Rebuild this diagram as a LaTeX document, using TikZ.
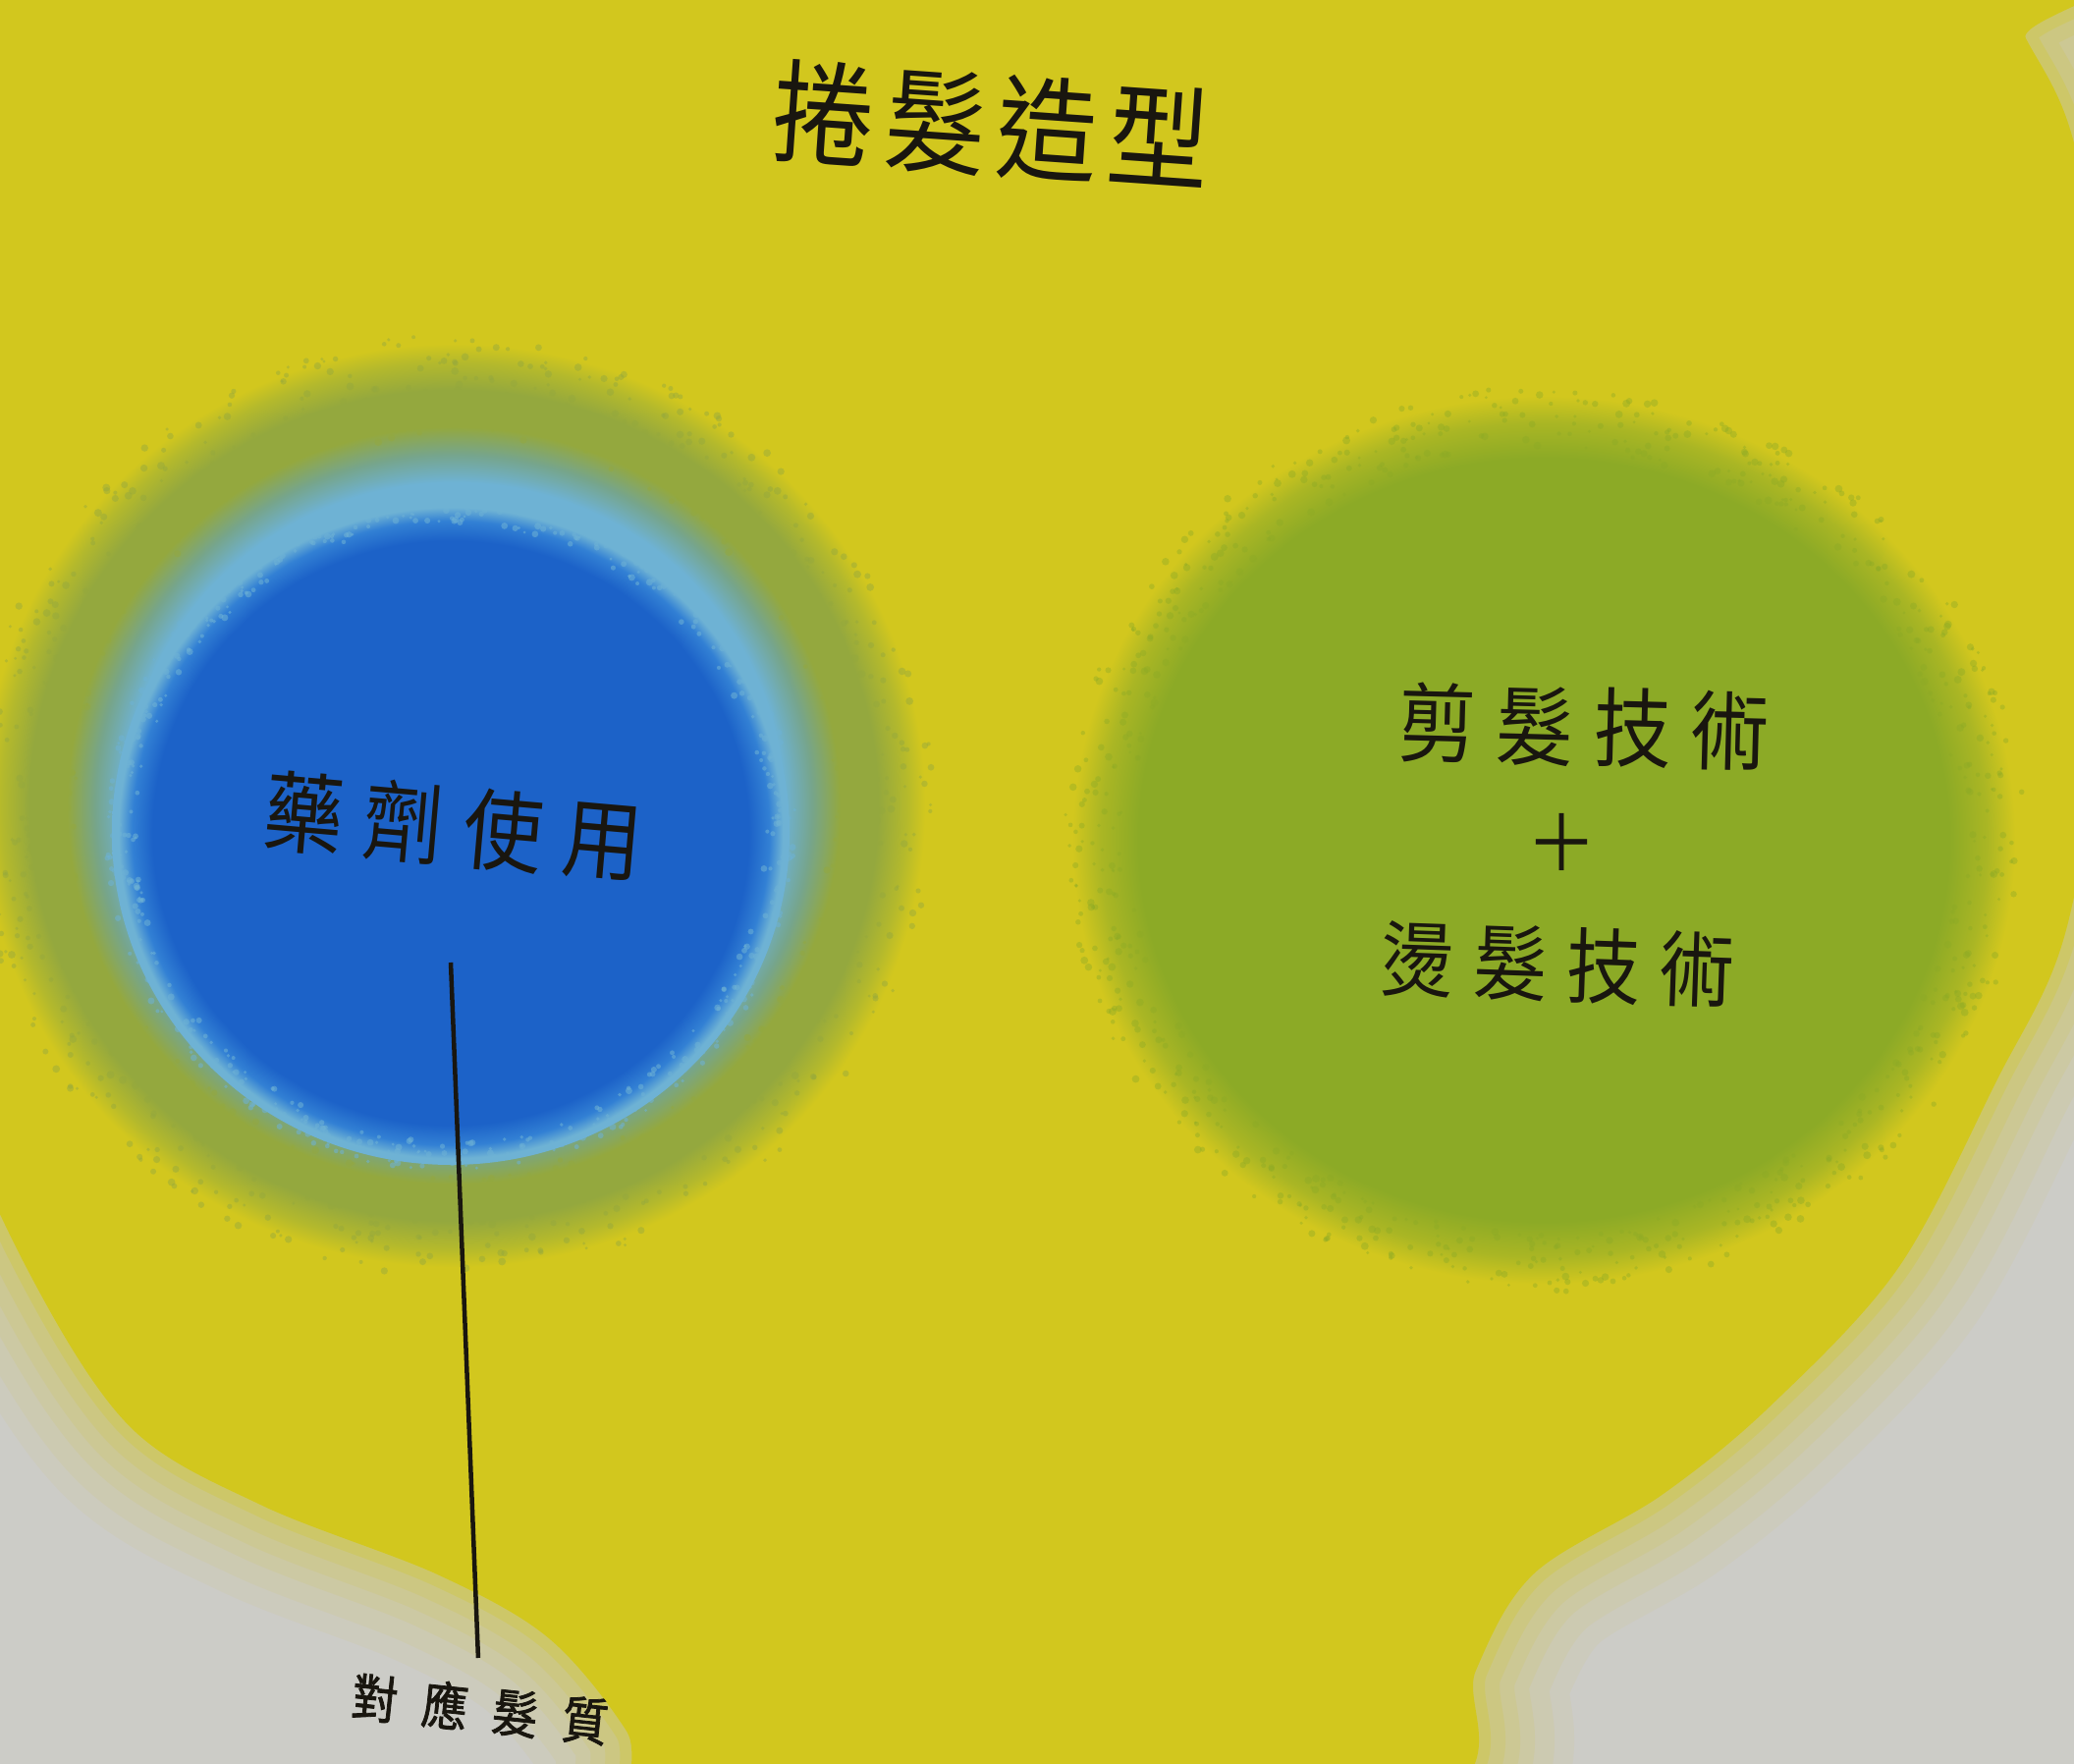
\documentclass[tikz,border=0pt]{standalone}
\usepackage{fontspec}
\newfontfamily\cjk[FakeStretch=0.9]{Noto Sans CJK TC}
\newfontfamily\cjkb[FakeStretch=0.9,FakeBold=1.5]{Noto Sans CJK TC}
\definecolor{paper}{RGB}{204,204,199}
\definecolor{yel}{RGB}{210,199,30}
\definecolor{blu}{RGB}{28,98,200}
\definecolor{blu2}{RGB}{50,128,212}
\definecolor{hcyan}{RGB}{110,178,212}
\definecolor{hteal}{RGB}{118,165,140}
\definecolor{holive}{RGB}{148,168,62}
\definecolor{hmix}{RGB}{180,185,44}
\definecolor{grn}{RGB}{140,170,38}
\definecolor{grn2}{RGB}{170,182,36}
\definecolor{ink}{RGB}{25,22,15}
\pgfdeclareradialshading{haloshade}{\pgfpoint{0bp}{0bp}}{color(0bp)=(hcyan); color(17.5bp)=(hcyan); color(19bp)=(hteal); color(20.5bp)=(holive); color(22.5bp)=(holive); color(24bp)=(hmix); color(25bp)=(yel); color(50bp)=(yel)}
\pgfdeclareradialshading{coreshade}{\pgfpoint{0bp}{0bp}}{color(0bp)=(blu); color(22bp)=(blu); color(23.5bp)=(blu2); color(24.5bp)=(hcyan); color(25bp)=(hcyan); color(50bp)=(hcyan)}
\pgfdeclareradialshading{greenshade}{\pgfpoint{0bp}{0bp}}{color(0bp)=(grn); color(21.5bp)=(grn); color(23.5bp)=(grn2); color(25bp)=(yel); color(50bp)=(yel)}
\tikzset{
  txt/.style={text=ink, font=\cjk, inner sep=0pt},
  lbltxt/.style={text=ink, font=\cjkb, inner sep=0pt},
  leader/.style={draw=ink, line width=4.5pt}
}
\begin{document}
\begin{tikzpicture}[x=1pt,y=1pt]
\useasboundingbox (0,0) rectangle (2112,1796);
\begin{scope}
\clip (0,0) rectangle (2112,1796);
\fill[paper] (0,0) rectangle (2112,1796);
% big yellow field with soft edge
\foreach \w/\o/\f in {200/0.06/0, 160/0.07/0, 120/0.09/0, 90/0.11/0, 60/0.15/0, 30/0.25/0, 6/1/1}{
  \filldraw[draw=yel, fill=yel, line width=\w pt, draw opacity=\o, fill opacity=\f]
    plot[smooth cycle, tension=0.55] coordinates {
      (-80,1876) (2000,1856) (2060,1756) (2110,1646) (2150,1396) (2140,1096)
      (2100,846) (2030,696) (1930,506) (1800,366) (1690,276) (1560,196)
      (1500,96) (1460,-34) (1000,-124) (680,-54) (640,36) (560,131)
      (446,196) (268,266) (134,346) (30,506) (-60,716) (-100,926)};
}
% left blob: halo + blue core
\shade[shading=haloshade] (462,976) ellipse [x radius=480, y radius=470];
\pgfmathsetseed{7}
\foreach \i in {1,...,900}{
  \pgfmathsetmacro{\ang}{360*rnd}
  \pgfmathsetmacro{\rr}{0.80+0.22*rnd}
  \fill[holive, opacity=0.45] ({462+480*\rr*cos(\ang)},{976+470*\rr*sin(\ang)}) circle ({1.5+2.5*rnd});
}
\shade[shading=coreshade] (459,948) ellipse [x radius=345, y radius=338];
\foreach \i in {1,...,600}{
  \pgfmathsetmacro{\ang}{360*rnd}
  \pgfmathsetmacro{\rr}{0.93+0.09*rnd}
  \fill[hcyan, opacity=0.55] ({459+345*\rr*cos(\ang)},{948+338*\rr*sin(\ang)}) circle ({1.5+2*rnd});
}
% right green blob
\shade[shading=greenshade] (1572,941) ellipse [x radius=480, y radius=452];
\foreach \i in {1,...,800}{
  \pgfmathsetmacro{\ang}{360*rnd}
  \pgfmathsetmacro{\rr}{0.88+0.14*rnd}
  \fill[grn, opacity=0.4] ({1572+480*\rr*cos(\ang)},{941+452*\rr*sin(\ang)}) circle ({1.5+2.5*rnd});
}
\end{scope}
% texts
\node[txt, rotate=-4] (title) at (1010,1668)
  {\fontsize{115}{115}\selectfont 捲\hspace{0.09em}髮\hspace{0.09em}造\hspace{0.09em}型};
\node[txt, rotate=-5] (drug) at (462,955)
  {\fontsize{90}{90}\selectfont 藥\hspace{0.23em}劑\hspace{0.23em}使\hspace{0.23em}用};
\node[txt, rotate=-1.5] (cut) at (1613,1056)
  {\fontsize{88}{88}\selectfont 剪\hspace{0.23em}髮\hspace{0.23em}技\hspace{0.23em}術};
\node[txt] (plus) at (1590,938) {\fontsize{80}{80}\selectfont ＋};
\node[txt, rotate=-2] (perm) at (1586,814)
  {\fontsize{84}{84}\selectfont 燙\hspace{0.23em}髮\hspace{0.23em}技\hspace{0.23em}術};
\node[lbltxt, rotate=-6] (lbl) at (489,56)
  {\fontsize{52}{52}\selectfont 對\hspace{0.48em}應\hspace{0.48em}髮\hspace{0.48em}質};
\coordinate (linetop) at (459,816);
\draw[leader, shorten >=27pt] (linetop) -- (lbl);
\end{tikzpicture}
\end{document}
